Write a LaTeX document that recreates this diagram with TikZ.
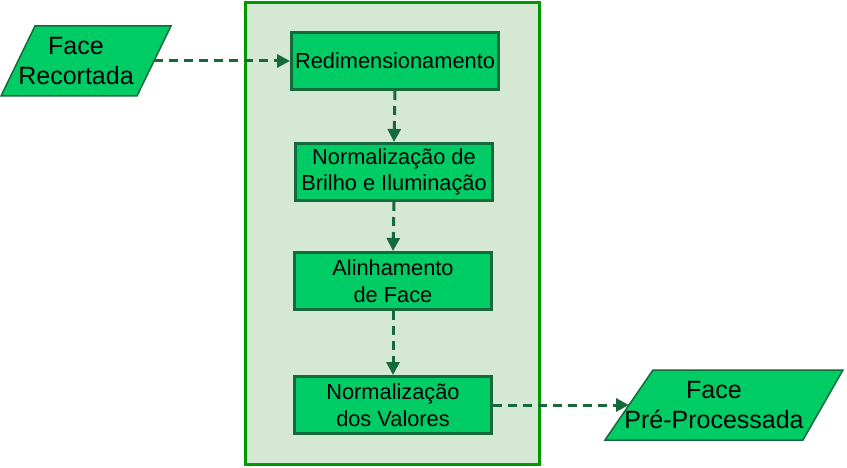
\documentclass[tikz,border=0pt]{standalone}
\usepackage{fontspec}
\setmainfont{Liberation Sans}
\usetikzlibrary{arrows.meta}
\definecolor{boxfill}{HTML}{00CC66}
\definecolor{boxline}{HTML}{16693A}
\definecolor{panelfill}{HTML}{D5E8D4}
\definecolor{panelline}{HTML}{009900}

\begin{document}
\begin{tikzpicture}[x=1pt,y=-1pt]
\tikzstyle{every node}+=[inner sep=0pt, align=center]
\tikzstyle{procbox}=[draw=boxline, fill=boxfill, line width=3pt, minimum height=57pt, font=\fontsize{21.8}{26.5}\selectfont]
\tikzstyle{datashape}=[draw=boxline, fill=boxfill, line width=1.5pt, line join=miter]
\tikzstyle{datatext}=[font=\fontsize{25}{29.5}\selectfont]
\tikzstyle{flow}=[draw=boxline, line width=3pt, dash pattern=on 9pt off 6pt, -{Triangle[length=13pt,width=13pt]}]
\useasboundingbox (0,0) rectangle (847,468);
% processing panel
\draw [panelline, fill=panelfill, line width=3pt] (245.5,2.5) rectangle (539.5,464.5);
% input and output data
\draw [datashape] (1,96) -- (35,26) -- (171,26) -- (137,96) -- cycle;
\node [datatext] (recortada) at (76,61) {Face\\Recortada};
\coordinate (recortadaout) at (154,61);
\draw [datashape] (605,440) -- (653,370) -- (843,370) -- (803,440) -- cycle;
\node [datatext] (preproc) at (714,405) {Face\\Pré-Processada};
\coordinate (preprocin) at (629,405);
% steps
\node [procbox, minimum width=207pt] (redim) at (395,61) {Redimensionamento};
\node [procbox, minimum width=197pt] (brilho) at (394,172) {Normalização de\\Brilho e Iluminação};
\node [procbox, minimum width=197pt] (alinh) at (393,281) {Alinhamento\\de Face};
\node [procbox, minimum width=197pt] (valores) at (393,405) {Normalização\\dos Valores};
% connectors
\draw [flow] (recortadaout) -- (redim.west);
\draw [flow] (redim.south) -- (brilho.north);
\draw [flow] (brilho.south) -- (alinh.north);
\draw [flow] (alinh.south) -- (valores.north);
\draw [flow] (valores.east) -- (preprocin);
\end{tikzpicture}
\end{document}
